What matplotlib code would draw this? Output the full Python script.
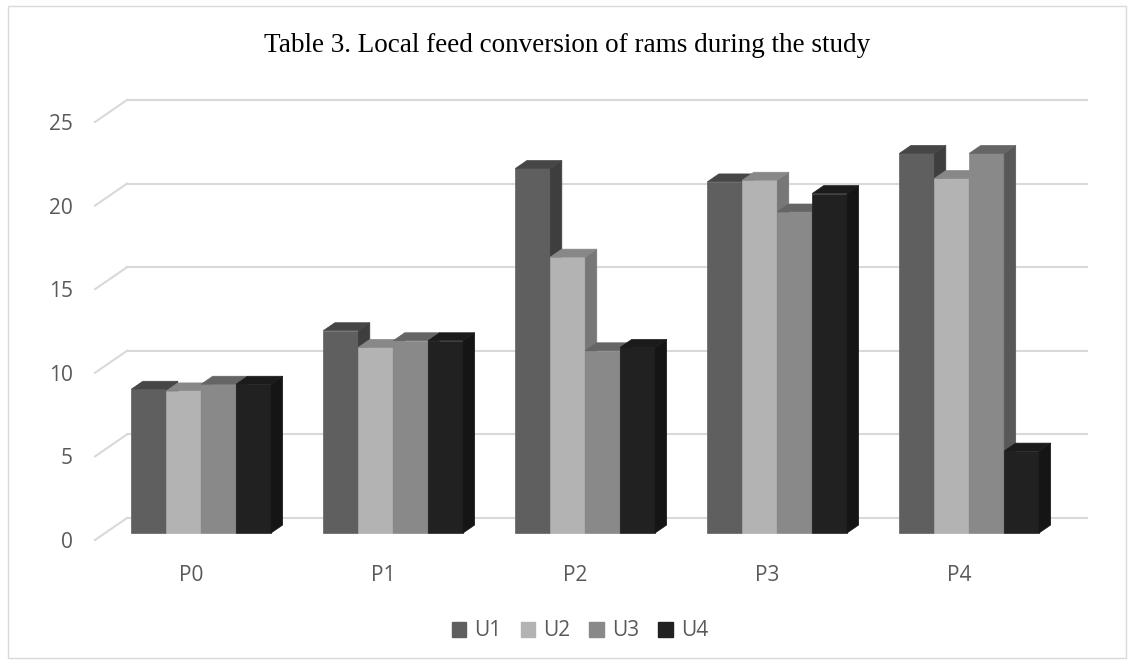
import matplotlib.pyplot as plt
from matplotlib.patches import Polygon, Rectangle, Patch

# data
groups = ['P0', 'P1', 'P2', 'P3', 'P4']
series = ['U1', 'U2', 'U3', 'U4']
u1 = [8.6, 12.1, 21.8, 21.0, 22.7]
u2 = [8.5, 11.1, 16.5, 21.1, 21.2]
u3 = [8.9, 11.5, 10.9, 19.2, 22.7]
u4 = [8.9, 11.5, 11.1, 20.3, 4.9]
yticks = [0, 5, 10, 15, 20, 25]

# front / top / side shades per series
front_c = ['#5f5f5f', '#b3b3b3', '#898989', '#212121']
top_c = ['#464646', '#888888', '#656565', '#1b1b1b']
side_c = ['#3e3e3e', '#777777', '#585858', '#151515']

W, H = 1134, 664
fig = plt.figure(figsize=(W / 100, H / 100), dpi=100)
plt.rcParams['font.family'] = ['Open Sans', 'DejaVu Sans']

# chart frame
fig.patches.append(Rectangle((8 / W, 6 / H), 1118 / W, 652 / H, transform=fig.transFigure,
                             fill=False, edgecolor='#d9d9d9', lw=1))

# axes: x = category units, y = value units (front plane of the floor)
ax = fig.add_axes([95 / W, (H - 540) / H, 960 / W, 418 / H])
ax.set_xlim(0, len(groups))
ax.set_ylim(0, 25)
ax.patch.set_visible(False)
for s in ax.spines.values():
    s.set_visible(False)

# oblique depth of the floor in data units
DX = 32 / 192
DY = 22 / 16.72

# gridlines: slanted on the side wall, horizontal on the back wall
for v in yticks:
    ax.plot([0, DX], [v, v + DY], color='#d9d9d9', lw=1.5, clip_on=False, zorder=1)
    ax.plot([DX, len(groups) + DX], [v + DY, v + DY], color='#d9d9d9', lw=1.5, clip_on=False, zorder=1)

ax.set_yticks(yticks)
ax.set_xticks([i + 0.5 for i in range(len(groups))])
ax.set_xticklabels(groups)
ax.tick_params(length=0, labelsize=15, labelcolor='#595959')
ax.tick_params(axis='y', pad=16)
ax.tick_params(axis='x', pad=18)

# 3d-looking bars
d0, bd = 0.32, 0.36          # bar depth start / thickness (fraction of floor depth)
bw = 0.182                   # bar width
margin = (1 - 4 * bw) / 2
vals = [u1, u2, u3, u4]
for i in range(len(groups)):
    for j in range(len(series)):
        v = vals[j][i]
        xl = i + margin + j * bw + d0 * DX
        xr = xl + bw
        yb = d0 * DY
        yt = yb + v
        ox, oy = bd * DX, bd * DY
        faces = [
            ([(xl, yb), (xr, yb), (xr, yt), (xl, yt)], front_c[j]),
            ([(xr, yb), (xr + ox, yb + oy), (xr + ox, yt + oy), (xr, yt)], side_c[j]),
            ([(xl, yt), (xr, yt), (xr + ox, yt + oy), (xl + ox, yt + oy)], top_c[j]),
        ]
        for pts, c in faces:
            ax.add_patch(Polygon(pts, closed=True, facecolor=c, edgecolor=c, lw=0.5,
                                 clip_on=False, zorder=3 + i * 4 + j))

fig.text(0.5, 1 - 52 / H, 'Table 3. Local feed conversion of rams during the study',
         ha='center', va='baseline', fontsize=19.5, family='Liberation Serif', color='black')

handles = [Patch(facecolor=c, edgecolor=c) for c in front_c]
fig.legend(handles, series, loc='center', bbox_to_anchor=(580 / W, 1 - 631 / H), ncol=4,
           frameon=False, fontsize=15, labelcolor='#595959', handlelength=0.7,
           handleheight=0.7, handletextpad=0.4, columnspacing=0.9)

plt.savefig('out.png', dpi=100)
